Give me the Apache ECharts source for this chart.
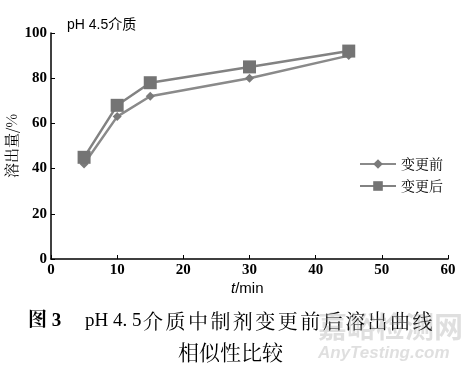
<!DOCTYPE html>
<html><head><meta charset="utf-8">
<script src="https://cdn.jsdelivr.net/npm/echarts@6/dist/echarts.min.js"></script>
<style>html,body{margin:0;padding:0;background:#fff}#c{width:468px;height:372px}</style>
</head><body><div id="c"></div>
<script>
const times = [5, 10, 15, 30, 45];
const before = [42, 63, 72, 80, 90];
const after = [45, 68, 78, 85, 92];
const seriesNames = ['变更前', '变更后'];
const captionLine1Chars = '介质中制剂变更前后溶出曲线';
const captionLine2 = '相似性比较';

const chart = echarts.init(document.getElementById('c'));
const serif = '"Liberation Serif","DejaVu Serif","Noto Serif CJK SC","Noto Sans CJK SC",serif';
const cjk = '"Noto Serif CJK SC","Noto Sans CJK SC",serif';

const capGraphics = [];
const chars = captionLine1Chars.split('');
const x0 = 143, x1 = 435, step = (x1 - x0) / chars.length;
chars.forEach((ch, i) => {
  capGraphics.push({type: 'text', left: x0 + i * step, top: 311,
    style: {text: ch, fill: '#000', font: '20px ' + cjk}});
});

chart.setOption({
  animation: false,
  grid: {left: 51, right: 20, top: 33, bottom: 113, outerBoundsMode: 'none', containLabel: false},
  xAxis: {
    type: 'value', min: 0, max: 60, interval: 10,
    axisLine: {lineStyle: {color: '#000', width: 1.5}},
    axisTick: {inside: true, length: 4, lineStyle: {color: '#000'}},
    axisLabel: {color: '#000', fontFamily: serif, fontWeight: 'bold', fontSize: 15, margin: 4},
    splitLine: {show: false}
  },
  yAxis: {
    type: 'value', min: 0, max: 100, interval: 20,
    axisLine: {show: true, lineStyle: {color: '#000', width: 1.5}},
    axisTick: {show: true, inside: true, length: 4, lineStyle: {color: '#000'}},
    axisLabel: {color: '#000', fontFamily: serif, fontWeight: 'bold', fontSize: 15, margin: 4},
    splitLine: {show: false},
    name: '溶出量/%', nameLocation: 'middle', nameGap: 32, nameRotate: 90, nameMoveOverlap: false,
    nameTextStyle: {color: '#000', fontFamily: cjk, fontSize: 15}
  },
  legend: {
    right: 20, top: 152, orient: 'vertical', itemGap: 8, itemWidth: 36, itemHeight: 12,
    textStyle: {color: '#000', fontFamily: cjk, fontSize: 14},
    data: seriesNames
  },
  series: [
    {name: seriesNames[0], type: 'line', data: times.map((t, i) => [t, before[i]]),
     symbol: 'diamond', symbolSize: 9,
     lineStyle: {color: '#8a8a8a', width: 2.5}, itemStyle: {color: '#7a7a7a'}},
    {name: seriesNames[1], type: 'line', data: times.map((t, i) => [t, after[i]]),
     symbol: 'rect', symbolSize: 13,
     lineStyle: {color: '#828282', width: 2.5}, itemStyle: {color: '#747474'}}
  ],
  graphic: [
    {type: 'text', left: 67, top: 18, style: {text: 'pH 4.5介质', fill: '#000', font: '14px "Liberation Sans","Noto Sans CJK SC",sans-serif'}},
    {type: 'text', left: 231, top: 281, style: {text: '{i|t}{n|/min}', fill: '#000',
      rich: {i: {fontStyle: 'italic', fontFamily: '"Liberation Sans",sans-serif', fontSize: 15},
             n: {fontFamily: '"Liberation Sans",sans-serif', fontSize: 15}}}},
    {type: 'text', left: 28, top: 312, style: {text: '图 3', fill: '#000', font: 'bold 19px "Liberation Serif","Noto Serif CJK SC",serif'}},
    {type: 'text', left: 85, top: 312, style: {text: 'pH 4. 5', fill: '#000', font: '19px "Liberation Serif",serif'}},
    ...capGraphics,
    {type: 'text', left: 178, top: 342, style: {text: captionLine2, fill: '#000', font: '21px ' + cjk}},
    {type: 'text', left: 318, top: 312, style: {text: '嘉峪检测网', fill: 'rgba(150,150,150,0.3)', font: 'bold 29px "Noto Sans CJK SC",sans-serif'}},
    {type: 'text', left: 318, top: 345, style: {text: 'AnyTesting.com', fill: 'rgba(150,150,150,0.3)', font: 'italic bold 17px "Liberation Sans",sans-serif'}}
  ]
});
</script></body></html>
